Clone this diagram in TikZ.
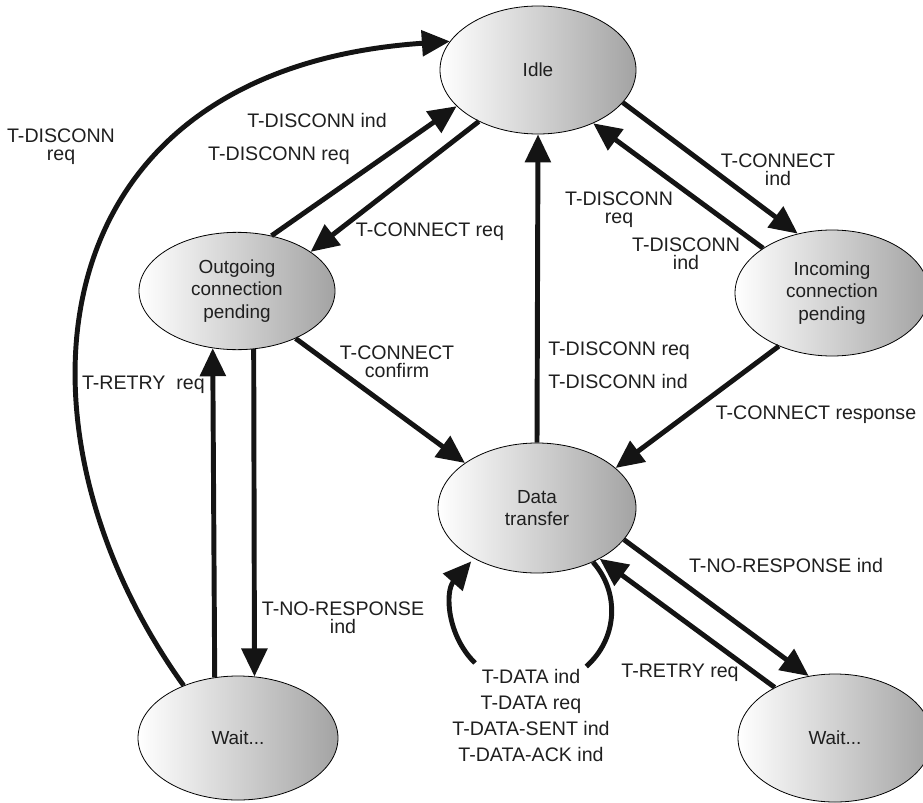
\documentclass[tikz,border=0pt]{standalone}
\usepackage{fontspec}
\setmainfont{Liberation Sans}
\usetikzlibrary{shapes.geometric,arrows.meta}
\newcommand\lblfont{\fontsize{14.7pt}{13.5pt}\selectfont}
\newcommand\statefont{\fontsize{14.2pt}{16.9pt}\selectfont}
\newcommand\datafont{\fontsize{14.7pt}{19.5pt}\selectfont}
\begin{document}
\begin{tikzpicture}[x=0.75pt,y=-0.75pt,
  state/.style={ellipse, draw=black, line width=0.6pt, left color=white,
    right color=black!36, inner sep=0pt, align=center, font=\statefont,
    text=black!88},
  conn/.style={line width=3.7pt, draw=black!92,
    -{Triangle[length=21pt,width=19pt]}},
  plainline/.style={line width=3.7pt, draw=black!92},
  lbl/.style={align=center, font=\lblfont, text=black!88, inner sep=0pt}]
\useasboundingbox (0,0) rectangle (923,802);

% states
\node[state, minimum width=147pt, minimum height=96pt] (idle) at (538,70) {Idle};
\node[state, minimum width=147pt, minimum height=88pt] (out) at (237,291) {Outgoing\\connection\\pending};
\node[state, minimum width=145.5pt, minimum height=94.5pt] (inc) at (832,293) {Incoming\\connection\\pending};
\node[state, minimum width=148.5pt, minimum height=97.5pt] (data) at (537,508) {Data\\transfer};
\node[state, minimum width=150pt, minimum height=93pt] (waitL) at (238,738) {Wait...};
\node[state, minimum width=145.5pt, minimum height=96pt] (waitR) at (835,738) {Wait...};

% transitions
\draw[conn] (waitL.136.6) .. controls (0,430) and (30,70) .. (idle.162);
\draw[conn] (out.58) -- (idle.204);
\draw[conn] (idle.221) -- (out.28);
\draw[conn] (idle.339) -- (inc.120);
\draw[conn] (inc.147) -- (idle.316);
\draw[conn] (data.north) -- (idle.south);
\draw[conn] (out.-39) -- (data.148);
\draw[conn] (inc.225) -- (data.27);
\draw[conn] (out.286.6) -- (waitL.75.3);
\draw[conn] (waitL.111.7) -- (out.247.8);
\draw[conn] (data.-20) -- (waitR.113);
\draw[conn] (waitR.140.8) -- (data.-39.7);

% data transfer self loop, broken by its label
\coordinate (loopin) at (475,663);
\draw[plainline] (data.-44.5) arc[start angle=-40, end angle=47, x radius=80, y radius=76];
\draw[conn] (loopin) arc[start angle=136, end angle=220, x radius=80, y radius=76];

% labels
\node[lbl] (l1) at (61,147) {T-DISCONN\\req};
\node[lbl] (l2) at (317,120) {T-DISCONN ind};
\node[lbl] (l3) at (279,156) {T-DISCONN req};
\node[lbl] (l4) at (430,232) {T-CONNECT req};
\node[lbl] (l5) at (778,170) {T-CONNECT\\ind};
\node[lbl] (l6) at (619,210) {T-DISCONN\\req};
\node[lbl] (l7) at (686,254) {T-DISCONN\\ind};
\node[lbl, anchor=west] (l8) at (548,351) {T-DISCONN req};
\node[lbl, anchor=west] (l9) at (548,381) {T-DISCONN ind};
\node[lbl] (l10) at (397,362) {T-CONNECT\\confirm};
\node[lbl] (l11) at (816,415) {T-CONNECT response};
\node[lbl, anchor=east] (l12) at (205,385) {T-RETRY\ \ req};
\node[lbl] (l13) at (343,618) {T-NO-RESPONSE\\ind};
\node[lbl] (l14) at (786,565) {T-NO-RESPONSE ind};
\node[lbl] (l15) at (680,673) {T-RETRY req};
\node[lbl, font=\datafont] (l16) at (531,715) {T-DATA ind\\T-DATA req\\T-DATA-SENT ind\\T-DATA-ACK ind};
\end{tikzpicture}
\end{document}
